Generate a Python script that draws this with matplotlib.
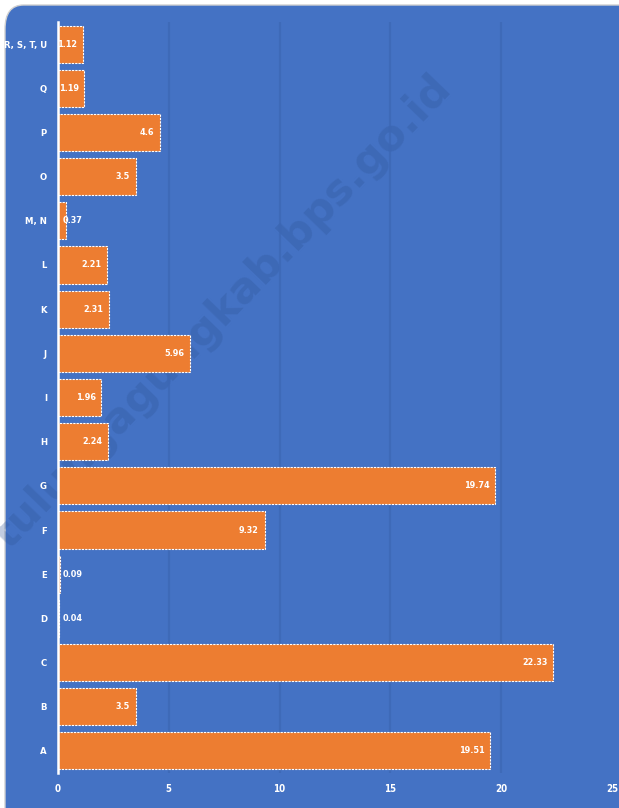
import matplotlib
matplotlib.use("Agg")
import matplotlib.pyplot as plt
from matplotlib.patches import FancyBboxPatch

plt.rcParams["font.family"] = ["DejaVu Sans"]
plt.rcParams["font.stretch"] = "condensed"

categories = ["A", "B", "C", "D", "E", "F", "G", "H", "I", "J", "K", "L",
              "M, N", "O", "P", "Q", "R, S, T, U"]
values = [19.51, 3.5, 22.33, 0.04, 0.09, 9.32, 19.74, 2.24, 1.96, 5.96,
          2.31, 2.21, 0.37, 3.5, 4.6, 1.19, 1.12]
xticks = [0, 5, 10, 15, 20, 25]

BLUE = "#4472C4"
ORANGE = "#ED7D31"
W, H = 619, 808

fig = plt.figure(figsize=(W / 100, H / 100), dpi=100)
fig.patch.set_facecolor("white")

bg = FancyBboxPatch((5 / W, -0.05), 1.2, 1.05 - 5 / H,
                    boxstyle="round,pad=0,rounding_size=0.03",
                    transform=fig.transFigure, facecolor=BLUE,
                    edgecolor="#D0D0D0", linewidth=1, zorder=-5)
fig.patches.append(bg)

fig.text(222 / W, 1 - 312 / H, "tulungagungkab.bps.go.id", rotation=46,
         ha="center", va="center", fontsize=31, fontweight="bold",
         fontstretch="normal", color="#2F5597", alpha=0.3, zorder=-1)

ax = fig.add_axes([58 / W, 1 - 773 / H, (612 - 58) / W, (773 - 22) / H])
ax.set_facecolor("none")
ax.set_zorder(2)

y = list(range(len(categories)))
ax.barh(y, values, height=0.84, color=ORANGE, edgecolor="white",
        linewidth=0.8, linestyle=(0, (2, 1)), zorder=3)

for yi, v in zip(y, values):
    if v >= 1:
        ax.text(v - 0.25, yi, f"{v:g}", ha="right", va="center",
                color="white", fontsize=6.5, fontweight="bold", zorder=4)
    else:
        ax.text(0.2, yi, f"{v:g}", ha="left", va="center",
                color="white", fontsize=6.5, fontweight="bold", zorder=4)

ax.set_xlim(0, 25)
ax.set_ylim(-0.5, len(categories) - 0.5)
ax.set_xticks(xticks)
ax.set_yticks(y)
ax.set_yticklabels(categories)
ax.tick_params(axis="both", length=0, colors="white", labelsize=7)
ax.tick_params(axis="y", pad=8, labelsize=6.8)
ax.tick_params(axis="x", pad=8)
for lab in ax.get_xticklabels() + ax.get_yticklabels():
    lab.set_fontweight("bold")

for xv in xticks[1:-1]:
    ax.axvline(xv, color="#3C67B4", linewidth=1.6, alpha=0.7, zorder=1)

for s in ["top", "right", "bottom"]:
    ax.spines[s].set_visible(False)
ax.spines["left"].set_color("white")
ax.spines["left"].set_linewidth(1.8)
ax.spines["left"].set_zorder(5)

fig.savefig("out.png", dpi=100, facecolor=fig.get_facecolor())
